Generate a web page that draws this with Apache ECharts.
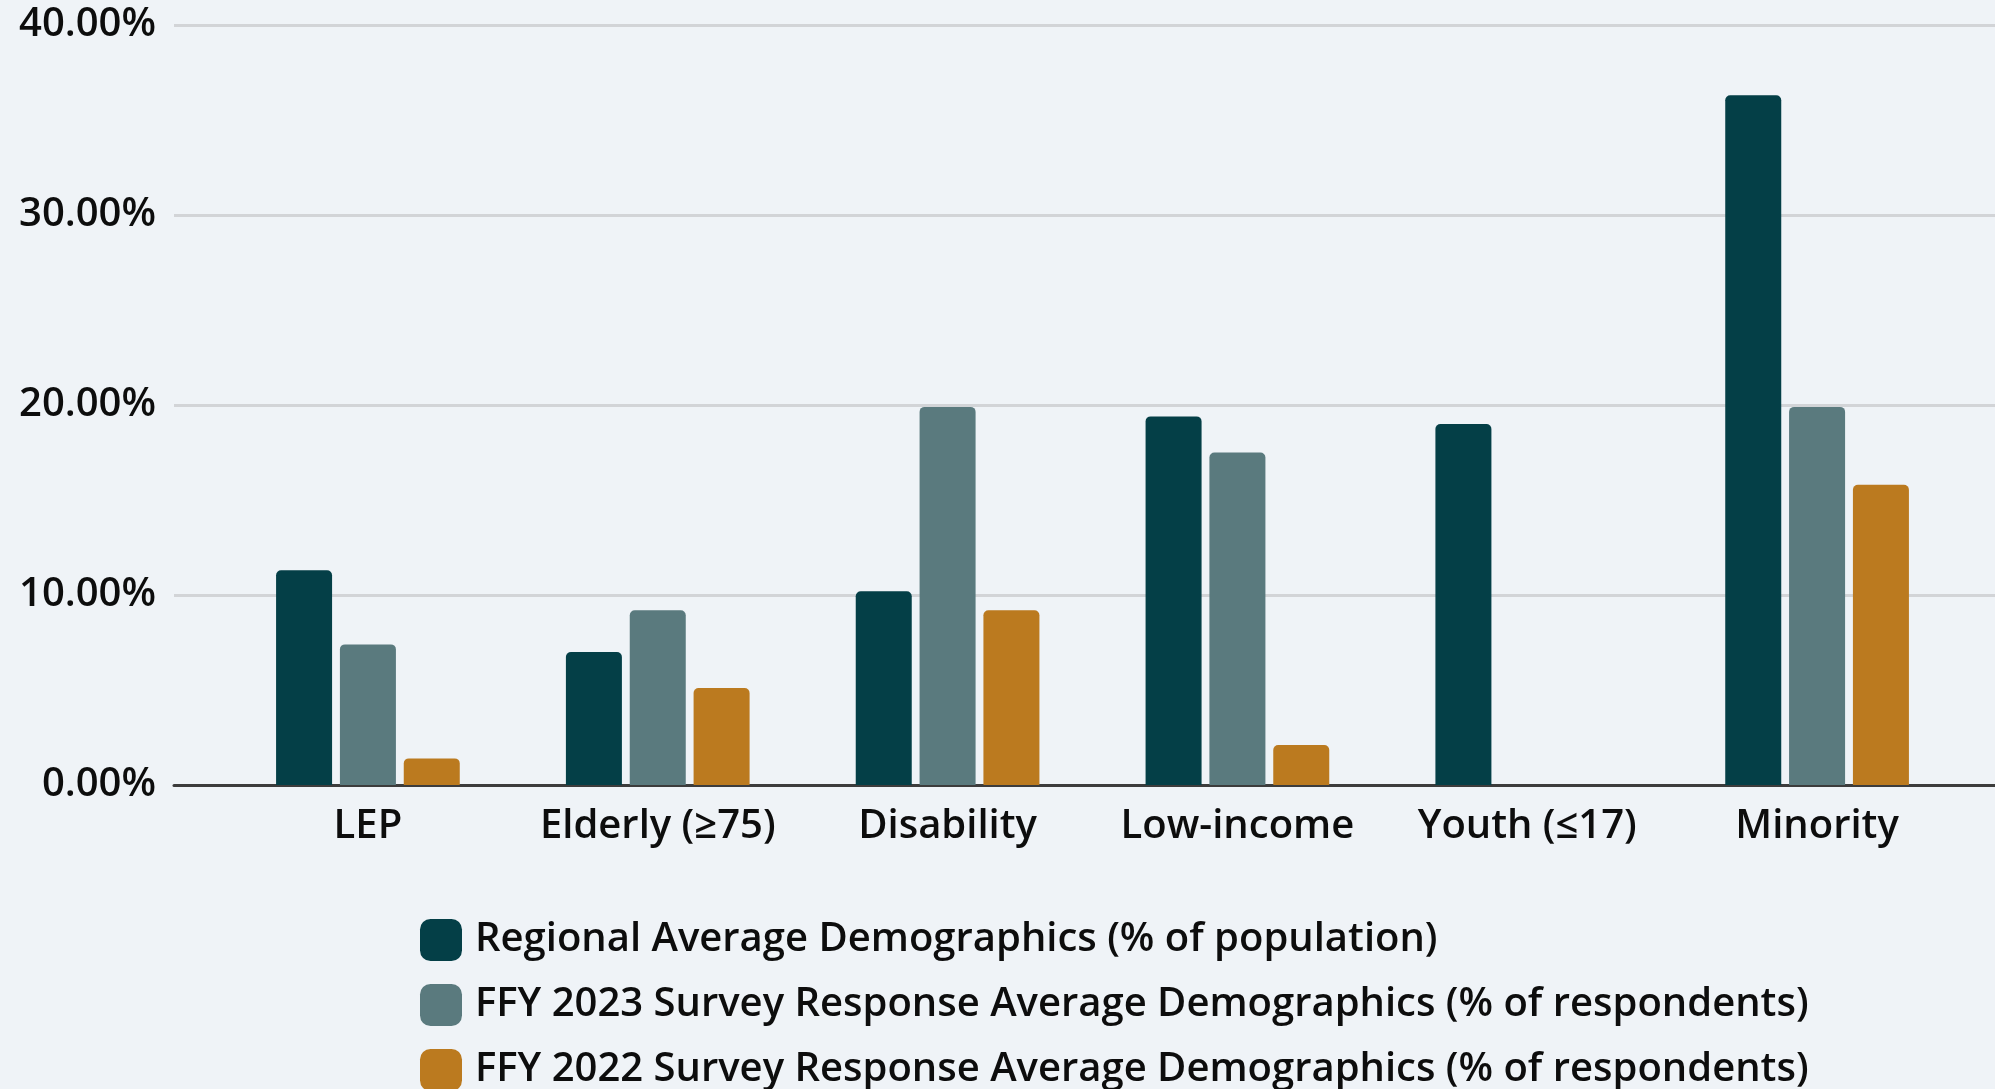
<!DOCTYPE html>
<html>
<head>
<meta charset="utf-8">
<script src="https://cdn.jsdelivr.net/npm/echarts@6/dist/echarts.min.js"></script>
<style>
  html, body { margin: 0; padding: 0; background: #eff3f7; }
  #chart { width: 1995px; height: 1089px; }
</style>
</head>
<body>
<div id="chart"></div>
<script>
const categories = ['LEP', 'Elderly (\u226575)', 'Disability', 'Low-income', 'Youth (\u226417)', 'Minority'];
const regionalValues = [11.3, 7.0, 10.2, 19.4, 19.0, 36.3];
const ffy2023Values = [7.4, 9.2, 19.9, 17.5, 0, 19.9];
const ffy2022Values = [1.4, 5.1, 9.2, 2.1, 0, 15.8];
const seriesNames = [
  'Regional Average Demographics (% of population)',
  'FFY 2023 Survey Response Average Demographics (% of respondents)',
  'FFY 2022 Survey Response Average Demographics (% of respondents)'
];
const yTicks = [0, 10, 20, 30, 40];

const colors = ['#043f47', '#5a7a7e', '#bb7a1f'];
const FONT = 'Open Sans';
const FS = 40;
const FW = 600;

const chart = echarts.init(document.getElementById('chart'));
const mkSeries = (name, data, color) => ({
  name, type: 'bar', data, xAxisIndex: 1, yAxisIndex: 1,
  barWidth: 56, barGap: '14%',
  itemStyle: { color, borderRadius: [5, 5, 0, 0] }
});
chart.setOption({
  backgroundColor: '#eff3f7',
  animation: false,
  textStyle: { fontFamily: FONT },
  grid: [
    { left: 174, right: 0, top: 25, bottom: 304 },
    { left: 223, right: 33, top: 25, bottom: 304 }
  ],
  xAxis: [
    { gridIndex: 0, type: 'category', data: categories,
      axisLabel: { show: false }, axisTick: { show: false },
      axisLine: { lineStyle: { color: '#3c3c3c', width: 3 } } },
    { gridIndex: 1, type: 'category', data: categories,
      axisTick: { show: false }, axisLine: { show: false },
      axisLabel: { color: '#0d0d0d', fontSize: FS, fontWeight: FW, fontFamily: FONT, margin: 22, interval: 0 } }
  ],
  yAxis: [
    { gridIndex: 0, type: 'value', min: yTicks[0], max: yTicks[yTicks.length - 1], interval: 10,
      axisLine: { show: false }, axisTick: { show: false },
      axisLabel: { color: '#0d0d0d', fontSize: FS, fontWeight: FW, fontFamily: FONT, margin: 18,
        formatter: v => v.toFixed(2) + '%' },
      splitLine: { lineStyle: { color: '#d2d4d7', width: 3 } } },
    { gridIndex: 1, type: 'value', min: yTicks[0], max: yTicks[yTicks.length - 1], interval: 10,
      show: false, splitLine: { show: false } }
  ],
  legend: {
    orient: 'vertical', left: 415, top: 914, height: 300,
    itemWidth: 42, itemHeight: 42, itemGap: 23,
    icon: 'roundRect',
    textStyle: { color: '#0d0d0d', fontSize: FS, fontWeight: FW, fontFamily: FONT, padding: [0, 0, 0, 8] },
    data: seriesNames
  },
  series: [
    mkSeries(seriesNames[0], regionalValues, colors[0]),
    mkSeries(seriesNames[1], ffy2023Values, colors[1]),
    mkSeries(seriesNames[2], ffy2022Values, colors[2])
  ]
});
</script>
</body>
</html>
